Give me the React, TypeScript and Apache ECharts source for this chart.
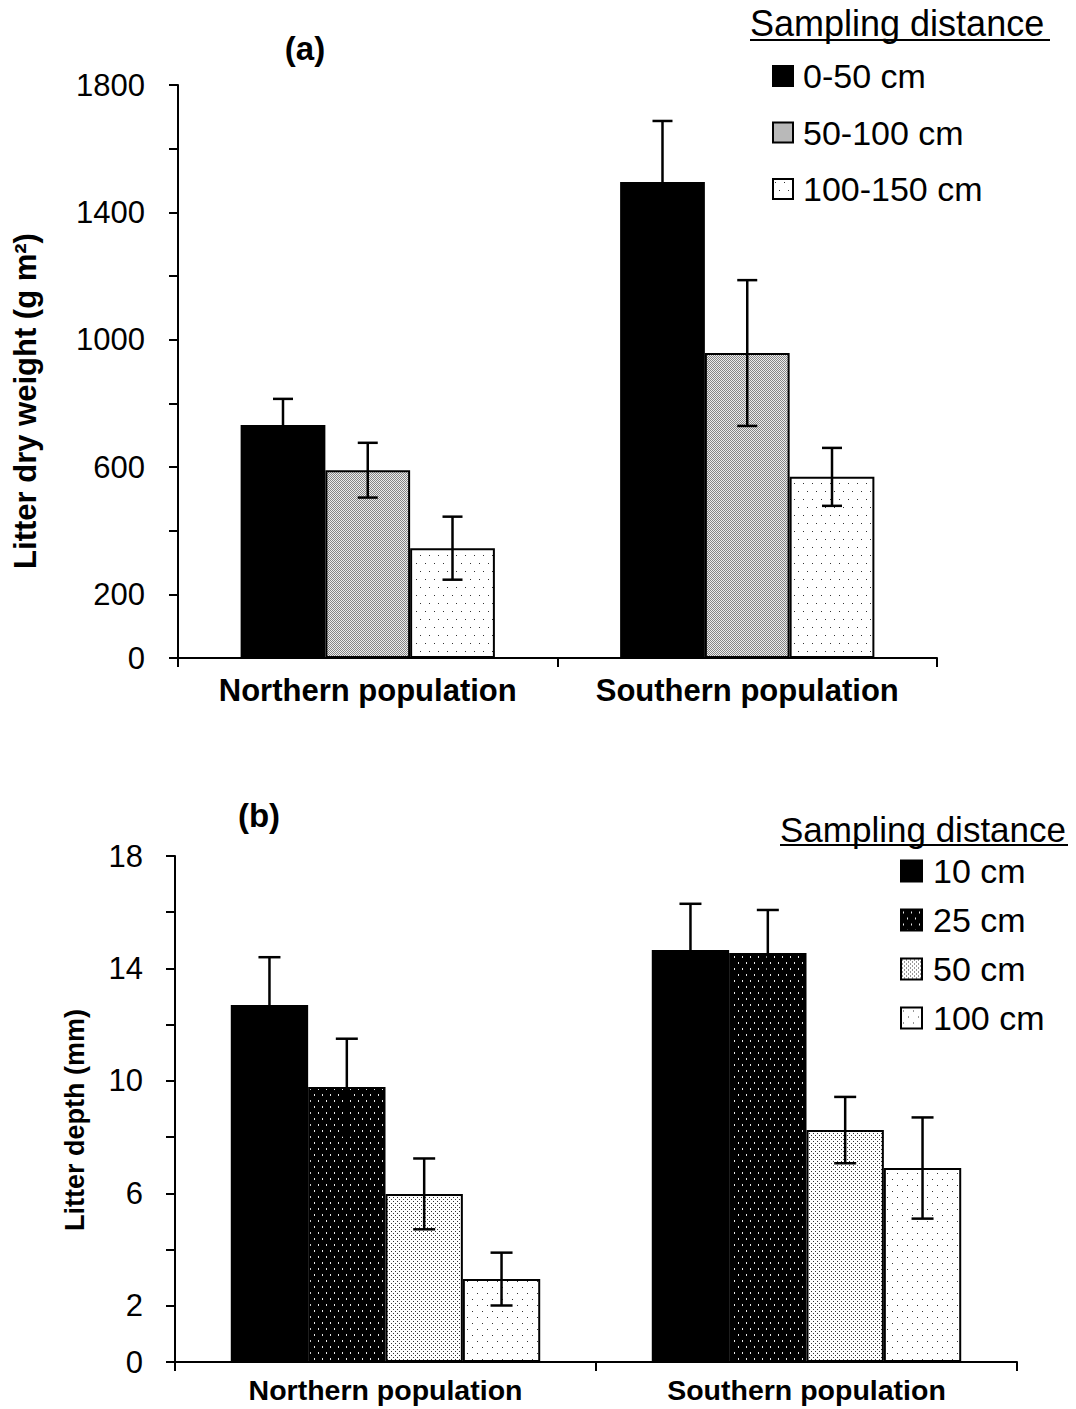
import React, { useEffect, useRef } from 'react';
import * as echarts from 'echarts';

const FONT = '"Liberation Sans", Arial, sans-serif';

const categories = ['Northern population', 'Southern population'];

// Panel (a): litter dry weight
const seriesA = ['0-50 cm', '50-100 cm', '100-150 cm'];
const meanA0 = [732, 1495];
const meanA1 = [590, 958];
const meanA2 = [345, 569];
const errA0 = [82, 192];
const errA1 = [86, 229];
const errA2 = [99, 91];
const labelsA = [0, 200, 600, 1000, 1400, 1800];

// Panel (b): litter depth
const seriesB = ['10 cm', '25 cm', '50 cm', '100 cm'];
const meanB0 = [12.7, 14.66];
const meanB1 = [9.78, 14.55];
const meanB2 = [5.98, 8.25];
const meanB3 = [2.95, 6.9];
const errB0 = [1.7, 1.64];
const errB1 = [1.72, 1.53];
const errB2 = [1.26, 1.18];
const errB3 = [0.94, 1.8];
const labelsB = [0, 2, 6, 10, 14, 18];

function makePattern(w: number, h: number, bg: string, fg: string, dots: number[][]) {
  const c = document.createElement('canvas');
  c.width = w;
  c.height = h;
  const ctx = c.getContext('2d')!;
  ctx.fillStyle = bg;
  ctx.fillRect(0, 0, w, h);
  ctx.fillStyle = fg;
  dots.forEach(([x, y, dw, dh]) => ctx.fillRect(x, y, dw || 1, dh || 1));
  return { image: c.toDataURL(), repeat: 'repeat', imageWidth: w, imageHeight: h } as any;
}

export default function App() {
  const ref = useRef<HTMLDivElement>(null);
  useEffect(() => {
    const chart = echarts.init(ref.current!, null, { renderer: 'svg' });

    const pGray = makePattern(2, 2, '#ececec', '#858585', [[0, 0], [1, 1]]);
    const pSparse = makePattern(9, 16, '#ffffff', '#333333', [[2, 3], [6, 11]]);
    const pDarkDots = makePattern(8, 12, '#000000', '#e8e8e8', [[2, 2, 1, 2], [6, 8, 1, 2]]);
    const pLightDots = makePattern(4, 4, '#ffffff', '#333333', [[1, 1], [3, 3]]);
    const pSparseB = makePattern(10, 12, '#ffffff', '#333333', [[2, 3], [7, 9]]);

    const fillsA = ['#000000', pGray, pSparse];
    const fillsB = ['#000000', pDarkDots, pLightDots, pSparseB];
    const meansA = [meanA0, meanA1, meanA2];
    const errsA = [errA0, errA1, errA2];
    const meansB = [meanB0, meanB1, meanB2, meanB3];
    const errsB = [errB0, errB1, errB2, errB3];

    const gapA = 0.33;
    const gapB = 0.265;

    const errRender = (n: number, gap: number, cap: number) => (params: any, api: any) => {
      const cat = api.value(0);
      const val = api.value(1);
      const err = api.value(2);
      const j = api.value(3);
      const band = api.size([1, 0])[0];
      const groupW = band * (1 - gap);
      const barW = groupW / n;
      const c = api.coord([cat, val]);
      const x = c[0] - groupW / 2 + (j + 0.5) * barW;
      const top = api.coord([cat, val + err])[1];
      const bot = api.coord([cat, val - err])[1];
      const st = { stroke: '#000', lineWidth: 2.5 };
      return {
        type: 'group',
        children: [
          { type: 'line', shape: { x1: x, y1: top, x2: x, y2: bot }, style: st },
          { type: 'line', shape: { x1: x - cap / 2, y1: top, x2: x + cap / 2, y2: top }, style: st },
          { type: 'line', shape: { x1: x - cap / 2, y1: bot, x2: x + cap / 2, y2: bot }, style: st },
        ],
      };
    };

    const errDataA: number[][] = [];
    meansA.forEach((m, j) => m.forEach((v, i) => errDataA.push([i, v, errsA[j][i], j])));
    const errDataB: number[][] = [];
    meansB.forEach((m, j) => m.forEach((v, i) => errDataB.push([i, v, errsB[j][i], j])));

    const axisLineStyle = { color: '#000', width: 2 };

    const xAxisBase = (gridIndex: number, fs: number, margin: number) => ({
      type: 'category',
      gridIndex,
      data: categories,
      axisLine: { show: true, lineStyle: axisLineStyle },
      axisTick: { show: true, length: 9, interval: 0, lineStyle: axisLineStyle },
      axisLabel: { fontSize: fs, fontWeight: 'bold', color: '#000', margin, fontFamily: FONT, interval: 0 },
      splitLine: { show: false },
    });

    const option: any = {
      animation: false,
      backgroundColor: '#fff',
      grid: [
        { left: 178, top: 85, width: 759, height: 573 },
        { left: 175, top: 856, width: 842, height: 506 },
      ],
      xAxis: [xAxisBase(0, 31, 17), xAxisBase(1, 28.5, 13)],
      yAxis: [
        {
          type: 'value', gridIndex: 0, min: 0, max: 1800, interval: 200,
          axisLine: { show: true, lineStyle: axisLineStyle },
          axisTick: { show: true, length: 9, lineStyle: axisLineStyle },
          splitLine: { show: false },
          axisLabel: {
            formatter: (v: number) => (labelsA.includes(v) ? String(v) : ''),
            fontSize: 31, color: '#000', margin: 33, fontFamily: FONT,
          },
        },
        {
          type: 'value', gridIndex: 1, min: 0, max: 18, interval: 2,
          axisLine: { show: true, lineStyle: axisLineStyle },
          axisTick: { show: true, length: 9, lineStyle: axisLineStyle },
          splitLine: { show: false },
          axisLabel: {
            formatter: (v: number) => (labelsB.includes(v) ? String(v) : ''),
            fontSize: 31, color: '#000', margin: 32, fontFamily: FONT,
          },
        },
      ],
      legend: [
        {
          data: seriesA, orient: 'vertical', left: 767, top: 54, itemWidth: 20, itemHeight: 20,
          itemGap: 22.5, icon: 'rect', selectedMode: false,
          textStyle: { fontSize: 34, color: '#000', fontFamily: FONT, padding: [0, 0, 0, 5] },
        },
        {
          data: seriesB, orient: 'vertical', left: 895, top: 849, itemWidth: 21, itemHeight: 21,
          itemGap: 15, icon: 'rect', selectedMode: false,
          textStyle: { fontSize: 34, color: '#000', fontFamily: FONT, padding: [0, 0, 0, 6] },
        },
      ],
      series: [
        ...seriesA.map((name, j) => ({
          name, type: 'bar', xAxisIndex: 0, yAxisIndex: 0, data: meansA[j],
          barGap: '0%', barCategoryGap: gapA * 100 + '%',
          itemStyle: { color: fillsA[j], borderColor: '#000', borderWidth: 2 },
        })),
        ...seriesB.map((name, j) => ({
          name, type: 'bar', xAxisIndex: 1, yAxisIndex: 1, data: meansB[j],
          barGap: '0%', barCategoryGap: gapB * 100 + '%',
          itemStyle: { color: fillsB[j], borderColor: '#000', borderWidth: 2 },
        })),
        {
          type: 'custom', xAxisIndex: 0, yAxisIndex: 0, data: errDataA, z: 5,
          encode: { x: 0, y: 1 }, renderItem: errRender(3, gapA, 20),
        },
        {
          type: 'custom', xAxisIndex: 1, yAxisIndex: 1, data: errDataB, z: 5,
          encode: { x: 0, y: 1 }, renderItem: errRender(4, gapB, 22),
        },
      ],
      graphic: [
        { type: 'text', x: 305, y: 48, style: { text: '(a)', font: `bold 33px ${FONT}`, fill: '#000', align: 'center', verticalAlign: 'middle' } },
        { type: 'text', x: 259, y: 815, style: { text: '(b)', font: `bold 33px ${FONT}`, fill: '#000', align: 'center', verticalAlign: 'middle' } },
        { type: 'text', x: 750, y: 23, style: { text: 'Sampling distance', font: `36px ${FONT}`, fill: '#000', align: 'left', verticalAlign: 'middle' } },
        { type: 'line', shape: { x1: 750, y1: 40, x2: 1050, y2: 40 }, style: { stroke: '#000', lineWidth: 2 } },
        { type: 'text', x: 780, y: 829, style: { text: 'Sampling distance', font: `35px ${FONT}`, fill: '#000', align: 'left', verticalAlign: 'middle' } },
        { type: 'line', shape: { x1: 780, y1: 845, x2: 1068, y2: 845 }, style: { stroke: '#000', lineWidth: 2 } },
        { type: 'text', x: 25, y: 401, rotation: Math.PI / 2, style: { text: 'Litter dry weight (g m²)', font: `bold 31px ${FONT}`, fill: '#000', align: 'center', verticalAlign: 'middle' } },
        { type: 'text', x: 75, y: 1120, rotation: Math.PI / 2, style: { text: 'Litter depth (mm)', font: `bold 27px ${FONT}`, fill: '#000', align: 'center', verticalAlign: 'middle' } },
      ],
    };

    chart.setOption(option);
    return () => chart.dispose();
  }, []);
  return <div ref={ref} style={{ position: 'absolute', left: 0, top: 0, width: 1076, height: 1409, background: '#fff' }} />;
}
